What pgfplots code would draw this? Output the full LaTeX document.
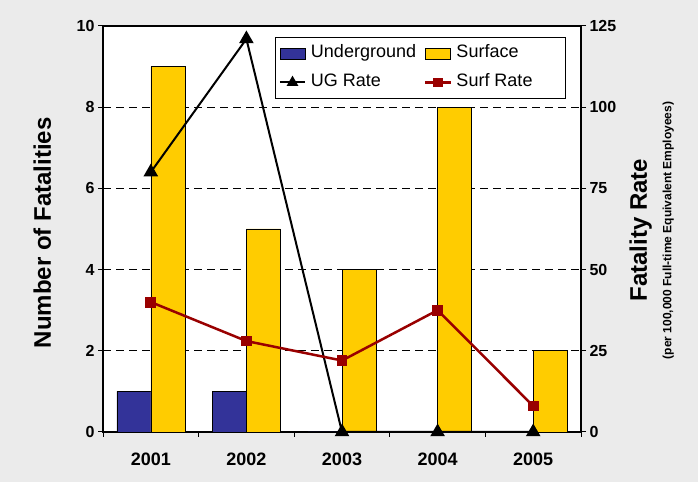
\documentclass[border=0pt]{standalone}
\usepackage{fontspec}
\setmainfont{Liberation Sans}
\usepackage{pgfplots}
\pgfplotsset{compat=1.18}
\definecolor{bg}{HTML}{EBEBEB}
\definecolor{ugblue}{HTML}{333399}
\definecolor{surfgold}{HTML}{FFCC00}
\definecolor{surfred}{HTML}{990000}
\pgfplotsset{
  base/.style={
    at={(103bp,50bp)}, anchor=south west, scale only axis,
    width=478bp, height=406bp,
    xmin=-0.5, xmax=4.5, ymin=0,
    tick align=outside, major tick length=5bp,
    major tick style={black, line width=1bp},
    axis line style={black, line width=1.3bp},
    /pgf/number format/assume math mode=true,
    yticklabel style={font=\bfseries\fontsize{16bp}{16bp}\selectfont},
  },
  ugleg/.style={legend image code/.code={\draw[##1] (0bp,0bp) -- (25bp,0bp); \draw[##1, mark size=4.8bp] plot coordinates {(12.5bp,0bp)};}},
  surfleg/.style={legend image code/.code={\draw[##1] (0bp,0bp) -- (26bp,0bp); \draw[##1, mark size=3.6bp] plot coordinates {(13bp,0bp)};}},
  barleg/.style={legend image code/.code={\draw[fill=#1, draw=black, line width=0.6bp] (0bp,-5.5bp) rectangle (25bp,5.5bp);}},
}
\begin{document}
\begin{tikzpicture}[x=1bp,y=1bp]
\fill[bg] (0,0) rectangle (698,482);
% counts (left axis)
\begin{axis}[base,
  ymax=10, ytick={0,2,...,10},
  xtick={-0.5,0.5,...,4.5}, x tick label as interval,
  xticklabels={2001,2002,2003,2004,2005},
  xtick pos=bottom, ytick pos=left,
  xticklabel style={font=\bfseries\fontsize{18bp}{18bp}\selectfont, yshift=-12bp},
  ymajorgrids, major grid style={black, line width=0.8bp, dash pattern=on 8bp off 5bp},
  axis background/.style={fill=white},
  ybar=0pt, bar width=34bp,
  ylabel={Number of Fatalities},
  ylabel style={font=\bfseries\fontsize{24bp}{24bp}\selectfont,
    at={(axis description cs:-0.1088,0.491)}, anchor=base, rotate=0},
]
\addplot[fill=ugblue, draw=black, line width=0.6bp] coordinates {(0,1) (1,1) (2,0) (3,0) (4,0)};
\addplot[fill=surfgold, draw=black, line width=0.6bp] coordinates {(0,9) (1,5) (2,4) (3,8) (4,2)};
\end{axis}
% rates (right axis)
\begin{axis}[base,
  ymax=125, ytick={0,25,...,125},
  axis x line=none, axis y line*=right,
  clip=false,
  ylabel={Fatality Rate},
  ylabel style={font=\bfseries\fontsize{24bp}{24bp}\selectfont,
    at={(axis description cs:1.138,0.4975)}, anchor=base, rotate=0},
  legend columns=2,
  legend style={at={(axis description cs:0.9686,0.9729)}, anchor=north east,
    draw=black, line width=1bp, fill=white, inner xsep=3bp, inner ysep=7.5bp,
    font=\fontsize{18bp}{18bp}\selectfont, row sep=12bp,
    nodes={inner sep=0bp, text height=13bp, text depth=4bp},
    cells={anchor=west}},
]
\addlegendimage{barleg=ugblue}
\addlegendentry{\hspace*{5bp}\makebox[113bp][l]{Underground}}
\addlegendimage{barleg=surfgold}
\addlegendentry{\hspace*{4bp}\makebox[106bp][l]{Surface}}
\addplot[black, line width=2bp, mark=triangle*, mark size=6.5bp, ugleg]
  coordinates {(0,80) (1,121) (2,0) (3,0) (4,0)};
\addlegendentry{\hspace*{5bp}UG Rate}
\addplot[surfred, line width=2.5bp, mark=square*, mark size=4.2bp, surfleg]
  coordinates {(0,40) (1,28) (2,22) (3,37.5) (4,8)};
\addlegendentry{\hspace*{4bp}Surf Rate}
\node[rotate=90, anchor=base, font=\bfseries\fontsize{12bp}{12bp}\selectfont]
  at (axis description cs:1.189,0.496) {(per 100,000 Full-time Equivalent Employees)};
\end{axis}
\end{tikzpicture}
\end{document}
